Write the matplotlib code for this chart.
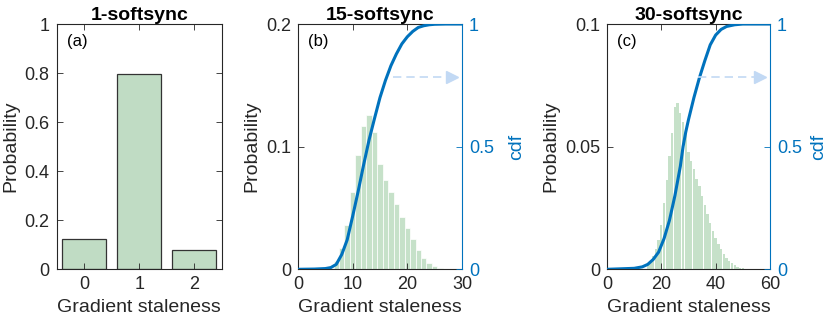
import matplotlib
matplotlib.use('Agg')
import matplotlib.pyplot as plt
import matplotlib.ticker as mticker

plt.rcParams['font.family'] = ['Liberation Sans', 'DejaVu Sans']

BLUE = '#0072BD'
AXIS = '#262626'
ARROW = '#c2d9f4'

# (a) 1-softsync
a_staleness = [0, 1, 2]
a_prob = [0.122, 0.796, 0.079]

# (b) 15-softsync histogram (unit bins) and cdf
b_staleness = list(range(7, 27))
b_prob = [0.0067, 0.017, 0.036, 0.063, 0.093, 0.117, 0.1255, 0.112, 0.086, 0.073,
          0.063, 0.053, 0.043, 0.034, 0.025, 0.016, 0.0095, 0.0054, 0.0027, 0.001]
b_cdf_x = [0, 3, 5, 6, 7, 8, 9, 10, 11, 12, 13, 14, 15, 16, 17, 18, 19, 20, 21, 22, 23, 24, 25, 27, 30]
b_cdf = [0.0, 0.001, 0.003, 0.007, 0.02, 0.06, 0.12, 0.216, 0.317, 0.425, 0.527, 0.615, 0.70,
         0.77, 0.83, 0.878, 0.919, 0.948, 0.97, 0.986, 0.993, 0.997, 0.999, 1.0, 1.0]

# (c) 30-softsync
c_staleness = list(range(15, 52))
c_prob = [0.002, 0.0034, 0.0054, 0.0084, 0.012, 0.018, 0.027, 0.0366, 0.046, 0.0556,
          0.066, 0.068, 0.0637, 0.06, 0.0556, 0.048, 0.044, 0.0407, 0.037, 0.034,
          0.0298, 0.0264, 0.0224, 0.019, 0.0156, 0.0129, 0.0102, 0.0081, 0.0061, 0.0047,
          0.0034, 0.0024, 0.0016, 0.0011, 0.0007, 0.0004, 0.0002]
c_cdf_x = [0, 5, 10, 13, 15, 17, 19, 21, 23, 25, 27, 28, 29, 30, 32, 34, 36, 38, 40, 42, 44, 47, 50, 55, 60]
c_cdf = [0.0, 0.002, 0.004, 0.01, 0.02, 0.04, 0.07, 0.125, 0.2, 0.3, 0.42, 0.5, 0.56, 0.61,
         0.70, 0.78, 0.85, 0.915, 0.955, 0.978, 0.99, 0.997, 1.0, 1.0, 1.0]

fig = plt.figure(figsize=(8.3, 3.31), dpi=100)


def style_axes(ax):
    for s in ax.spines.values():
        s.set_color(AXIS)
        s.set_linewidth(0.8)
    ax.tick_params(direction='in', length=4, width=0.6, colors=AXIS, labelsize=13,
                   top=True, pad=5)
    ax.yaxis.set_major_formatter(mticker.FormatStrFormatter('%g'))
    ax.set_xlabel('Gradient staleness', fontsize=14, color=AXIS, labelpad=4)
    ax.set_ylabel('Probability', fontsize=14, color=AXIS, labelpad=4)


# panel a
ax = fig.add_axes([0.0683, 0.1864, 0.199, 0.741])
ax.bar(a_staleness, a_prob, width=0.8, color='#c0dcc4', edgecolor='#333333', linewidth=0.9)
ax.set_xlim(-0.5, 2.5)
ax.set_ylim(0, 1)
ax.set_xticks(a_staleness)
ax.set_yticks([0, 0.2, 0.4, 0.6, 0.8, 1])
ax.tick_params(right=True)
style_axes(ax)
ax.set_title('1-softsync', fontsize=14, fontweight='bold', pad=3)
ax.text(0.06, 0.96, '(a)', transform=ax.transAxes, fontsize=12, va='top', ha='left')


def cdf_panel(rect, xs, probs, cx, cy, xmax, xticks, ymax, yticks, title, tag, arrow_x,
              bar_w, edge_lw, cdf_pad):
    ax = fig.add_axes(rect)
    ax.bar(xs, probs, width=bar_w, color='#c6e1c9', edgecolor='white', linewidth=edge_lw)
    ax.set_xlim(0, xmax)
    ax.set_ylim(0, ymax)
    ax.set_xticks(xticks)
    ax.set_yticks(yticks)
    style_axes(ax)
    ax.spines['right'].set_visible(False)
    ax.set_title(title, fontsize=14, fontweight='bold', pad=3)
    ax.text(0.06, 0.96, tag, transform=ax.transAxes, fontsize=12, va='top', ha='left')

    ax2 = ax.twinx()
    ax2.plot(cx, cy, color=BLUE, linewidth=2.2, solid_capstyle='round')
    ax2.set_ylim(0, 1)
    ax2.set_yticks([0, 0.5, 1])
    ax2.yaxis.set_major_formatter(mticker.FormatStrFormatter('%g'))
    for name, s in ax2.spines.items():
        s.set_visible(name == 'right')
    ax2.spines['right'].set_color(BLUE)
    ax2.spines['right'].set_linewidth(0.8)
    ax2.tick_params(direction='in', length=4, width=0.6, colors=BLUE, labelsize=13, pad=5)
    ax2.set_ylabel('cdf', fontsize=14, color=BLUE, labelpad=cdf_pad)

    # dashed arrow pointing to cdf axis
    ax2.plot(arrow_x[:2], [0.786, 0.786], color=ARROW, linestyle=(0, (5, 3)), linewidth=1.2)
    ax2.plot([arrow_x[2]], [0.786], marker='>', markersize=9, color=ARROW,
             markeredgecolor=ARROW, clip_on=False)
    return ax, ax2


cdf_panel([0.359, 0.1864, 0.1976, 0.741], b_staleness, b_prob, b_cdf_x, b_cdf,
          30, [0, 10, 20, 30], 0.2, [0, 0.1, 0.2], '15-softsync', '(b)', (17.4, 28.0, 28.2),
          1.0, 0.5, 10)
cdf_panel([0.7313, 0.1864, 0.1964, 0.741], c_staleness, c_prob, c_cdf_x, c_cdf,
          60, [0, 20, 40, 60], 0.1, [0, 0.05, 0.1], '30-softsync', '(c)', (33.5, 56.0, 56.4),
          0.85, 0, 6)

fig.savefig('out.png', dpi=100)
